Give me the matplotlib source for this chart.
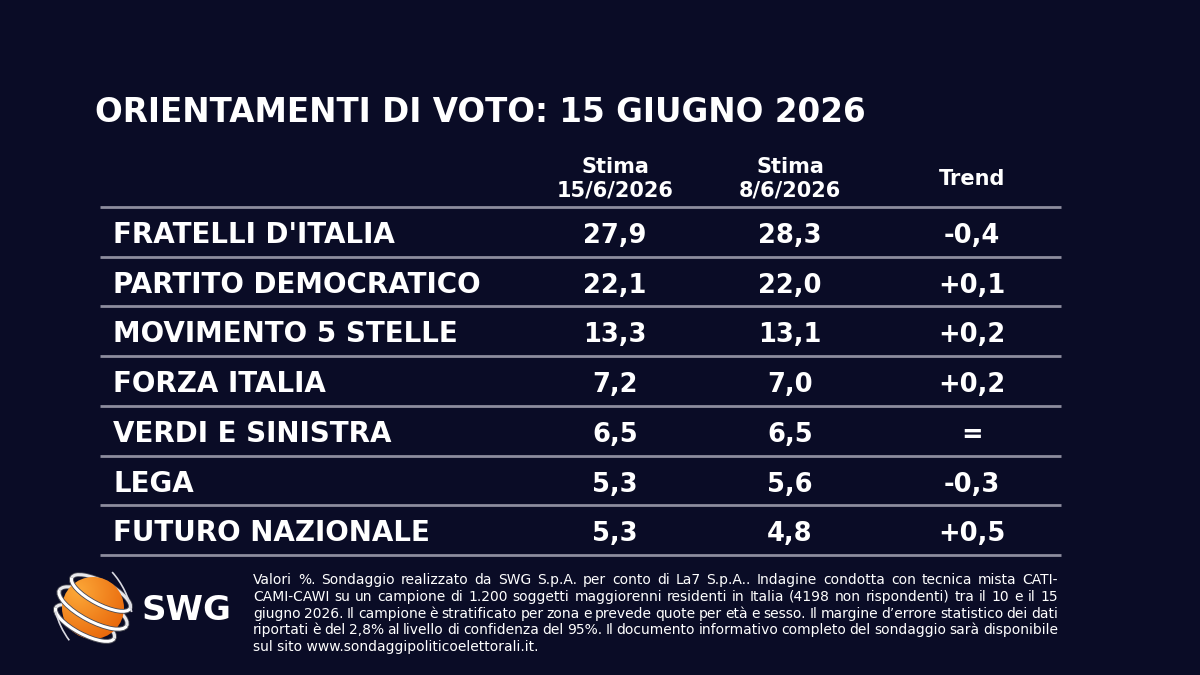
import numpy as np
import matplotlib
matplotlib.use('Agg')
import matplotlib.pyplot as plt
from matplotlib.patches import Circle, Arc

# Dati
titolo = 'ORIENTAMENTI DI VOTO: 15 GIUGNO 2026'
partiti = ['FRATELLI D\'ITALIA', 'PARTITO DEMOCRATICO', 'MOVIMENTO 5 STELLE',
           'FORZA ITALIA', 'VERDI E SINISTRA', 'LEGA', 'FUTURO NAZIONALE']
stima_15 = [27.9, 22.1, 13.3, 7.2, 6.5, 5.3, 5.3]
stima_8 = [28.3, 22.0, 13.1, 7.0, 6.5, 5.6, 4.8]
trend = ['-0,4', '+0,1', '+0,2', '+0,2', '=', '-0,3', '+0,5']
intestazioni = ['Stima\n15/6/2026', 'Stima\n8/6/2026', 'Trend']
note = [
    'Valori %. Sondaggio realizzato da SWG S.p.A. per conto di La7 S.p.A.. Indagine condotta con tecnica mista CATI-',
    'CAMI-CAWI su un campione di 1.200 soggetti maggiorenni residenti in Italia (4198 non rispondenti) tra il 10 e il 15',
    'giugno 2026. Il campione è stratificato per zona e prevede quote per età e sesso. Il margine d\u2019errore statistico dei dati',
    'riportati è del 2,8% al livello di confidenza del 95%. Il documento informativo completo del sondaggio sarà disponibile',
    'sul sito www.sondaggipoliticoelettorali.it.',
]

# Stile
sfondo = '#0a0c26'
grigio = '#8d8d9e'
plt.rcParams['font.family'] = ['DejaVu Sans']


def fmt(v):
    return f'{v:.1f}'.replace('.', ',')


fig = plt.figure(figsize=(12, 6.75), dpi=100, facecolor=sfondo)
ax = fig.add_axes([0, 0, 1, 1])
ax.set_xlim(0, 1200)
ax.set_ylim(675, 0)
ax.axis('off')
ax.set_facecolor(sfondo)

# Titolo
ax.text(95, 122, titolo, color='white', fontsize=23.5, fontweight='bold', va='baseline', ha='left')

# Intestazioni colonne
col_x = [615, 790, 972]
for k in range(2):
    riga1, riga2 = intestazioni[k].split('\n')
    ax.text(col_x[k], 173, riga1, color='white', fontsize=15, fontweight='bold',
            ha='center', va='baseline')
    ax.text(col_x[k], 196, riga2, color='white', fontsize=15, fontweight='bold',
            ha='center', va='baseline')
ax.text(col_x[2], 185, intestazioni[2], color='white', fontsize=15, fontweight='bold',
        ha='center', va='baseline')

# Righe tabella
top = 207
passo = 49.7
for i in range(len(partiti) + 1):
    y = top + i * passo
    ax.plot([100, 1061], [y, y], color=grigio, lw=2, solid_capstyle='butt')

for i, p in enumerate(partiti):
    yb = top + i * passo + 36
    ax.text(113, yb, p, color='white', fontsize=20, fontweight='bold', va='baseline', ha='left')
    ax.text(col_x[0], yb, fmt(stima_15[i]), color='white', fontsize=18.5, fontweight='bold',
            va='baseline', ha='center')
    ax.text(col_x[1], yb, fmt(stima_8[i]), color='white', fontsize=18.5, fontweight='bold',
            va='baseline', ha='center')
    ax.text(col_x[2], yb, trend[i], color='white', fontsize=18.5, fontweight='bold',
            va='baseline', ha='center')

# Note a piè di pagina, giustificate
renderer = fig.canvas.get_renderer()
x0, x1 = 253, 1058
for j, riga in enumerate(note):
    yb = 584 + j * 16.8
    parole = riga.split(' ')
    if j == len(note) - 1:
        ax.text(x0, yb, riga, color='white', fontsize=10, va='baseline', ha='left')
        continue
    testi = [ax.text(0, yb, w, color='white', fontsize=10, va='baseline', ha='left') for w in parole]
    larg = [t.get_window_extent(renderer).width for t in testi]
    gap = (x1 - x0 - sum(larg)) / (len(parole) - 1)
    x = x0
    for t, w in zip(testi, larg):
        t.set_x(x)
        x += w + gap

# Logo SWG
cx, cy, r = 93, 608, 31
ang = 28
n = 200
gx, gy = np.meshgrid(np.linspace(-1, 1, n), np.linspace(-1, 1, n))
d = np.sqrt((gx + 0.5) ** 2 + (gy + 0.55) ** 2)
c1 = np.array([0.99, 0.66, 0.22])
c2 = np.array([0.91, 0.40, 0.04])
t = np.clip(d / 1.8, 0, 1)[..., None]
img = c1 * (1 - t) + c2 * t
im = ax.imshow(img, extent=[cx - r, cx + r, cy + r, cy - r], origin='upper', zorder=3)
im.set_clip_path(Circle((cx, cy), r, transform=ax.transData))
ax.set_xlim(0, 1200)
ax.set_ylim(675, 0)

a = np.deg2rad(ang)
for off in [-17, 0, 17]:
    ox = cx - off * np.sin(a)
    oy = cy + off * np.cos(a)
    w = 2 * np.sqrt(r ** 2 - off ** 2) + 14
    h = w * 0.34
    # parte posteriore (dietro la sfera)
    ax.add_patch(Arc((ox, oy), w, h, angle=ang, color='#4a4b55', lw=3.4, zorder=2))
    ax.add_patch(Arc((ox, oy), w, h, angle=ang, color='#e8e8ec', lw=2.2, zorder=2))
    # parte anteriore
    ax.add_patch(Arc((ox, oy), w, h, angle=ang, theta1=0, theta2=180,
                     color='#4a4b55', lw=3.4, zorder=4))
    ax.add_patch(Arc((ox, oy), w, h, angle=ang, theta1=0, theta2=180,
                     color='white', lw=2.2, zorder=5))

# scie sottili esterne
ax.add_patch(Arc((cx, cy), 110, 72, angle=66, theta1=232, theta2=300,
                 color='#d8d8e0', lw=1.2, zorder=5))
ax.add_patch(Arc((cx, cy + 2), 110, 72, angle=66, theta1=62, theta2=112,
                 color='#d8d8e0', lw=1.2, zorder=5))

ax.text(142, 620, 'SWG', color='white', fontsize=24.5, fontweight='bold', va='baseline', ha='left')

fig.savefig('out.png', dpi=100, facecolor=sfondo)
